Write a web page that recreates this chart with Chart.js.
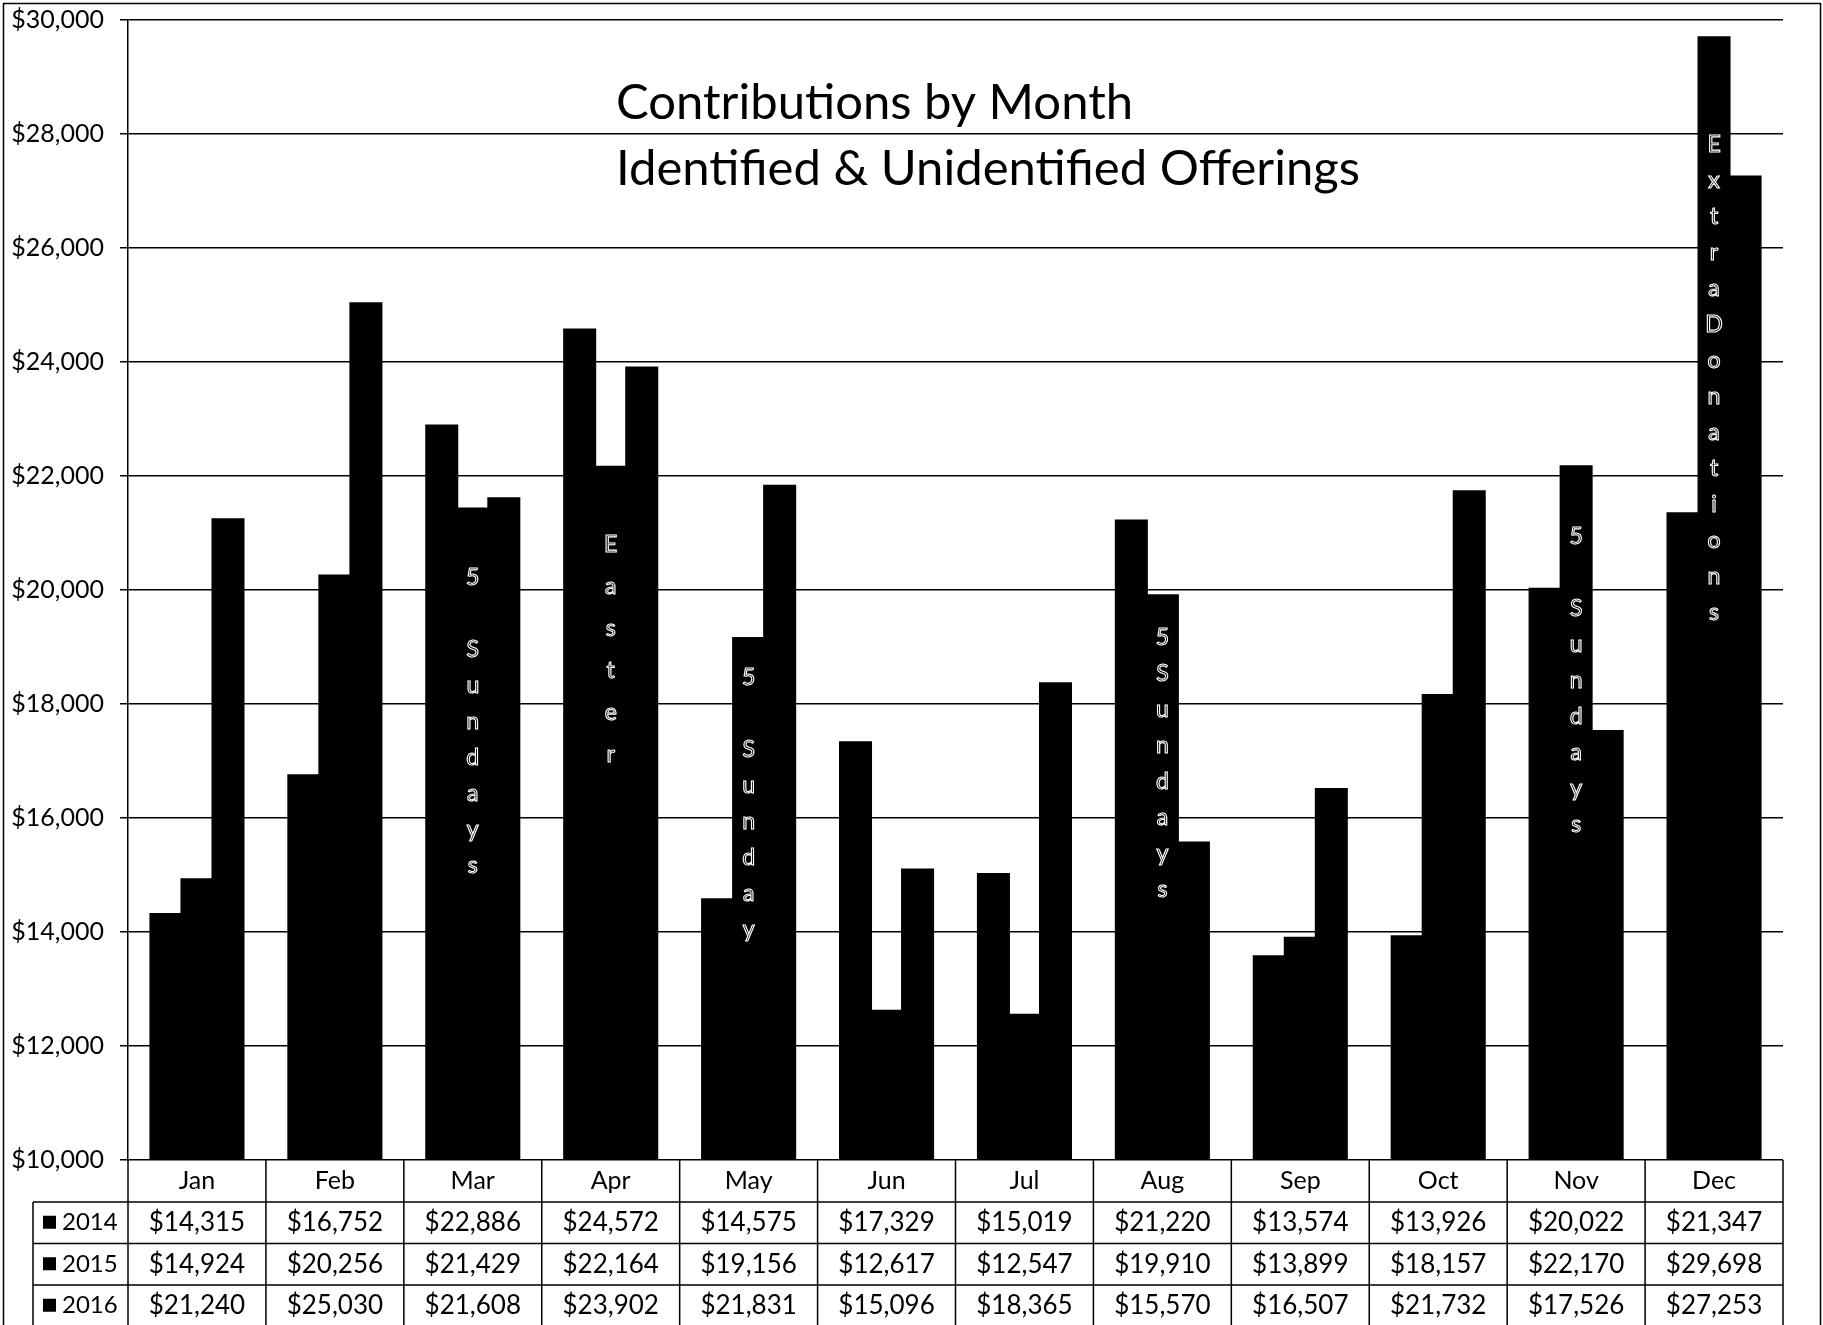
<!DOCTYPE html>
<html>
<head>
<meta charset="utf-8">
<script src="https://cdn.jsdelivr.net/npm/chart.js@4"></script>
<style>
  body { margin: 0; background: #fff; }
  canvas { display: block; }
</style>
</head>
<body>
<canvas id="myChart" width="1823" height="1325"></canvas>
<script>
// chart values
const months = ["Jan", "Feb", "Mar", "Apr", "May", "Jun", "Jul", "Aug", "Sep", "Oct", "Nov", "Dec"];
const seriesNames = ["2014", "2015", "2016"];
const values2014 = [14315, 16752, 22886, 24572, 14575, 17329, 15019, 21220, 13574, 13926, 20022, 21347];
const values2015 = [14924, 20256, 21429, 22164, 19156, 12617, 12547, 19910, 13899, 18157, 22170, 29698];
const values2016 = [21240, 25030, 21608, 23902, 21831, 15096, 18365, 15570, 16507, 21732, 17526, 27253];
const yMin = 10000;
const yMax = 30000;
const yStep = 2000;
const titleLines = ["Contributions by Month", "Identified & Unidentified Offerings"];

// notes written down the 2015 bar of a month ("from" is where the first letter sits, in $)
const notes = [
	{ month: "Mar", text: "5 Sundays", from: 20210, gap: 36 },
	{ month: "Apr", text: "Easter", from: 20790, gap: 42 },
	{ month: "May", text: "5 Sunday", from: 18456, gap: 36 },
	{ month: "Aug", text: "5Sundays", from: 19158, gap: 36 },
	{ month: "Nov", text: "5 Sundays", from: 20930, gap: 36 },
	{ month: "Dec", text: "ExtraDonations", from: 27807, gap: 36 },
];

const FONT = "Lato, 'Open Sans', sans-serif";
const allSeries = [values2014, values2015, values2016];

const money = (v) => "$" + v.toLocaleString("en-US");

// title, frame, notes and the data table under the plot
const extras = {
	id: "extras",
	afterDatasetsDraw(chart) {
		const ctx = chart.ctx;
		const meta = chart.getDatasetMeta(1);
		const y = chart.scales.y;

		// vertical notes inside the bars
		ctx.save();
		ctx.font = "23px " + FONT;
		ctx.textAlign = "center";
		ctx.textBaseline = "middle";
		ctx.strokeStyle = "#fff";
		ctx.lineWidth = 1.1;
		notes.forEach((n) => {
			const bar = meta.data[months.indexOf(n.month)];
			const start = y.getPixelForValue(n.from);
			[...n.text].forEach((ch, i) => {
				if (ch !== " ") ctx.strokeText(ch, bar.x, start + i * n.gap);
			});
		});
		ctx.restore();
	},
	afterDraw(chart) {
		const ctx = chart.ctx;
		const area = chart.chartArea;
		const W = chart.width;
		const H = chart.height;

		ctx.save();
		// title
		ctx.fillStyle = "#000";
		ctx.font = "49px " + FONT;
		ctx.textAlign = "left";
		ctx.textBaseline = "middle";
		ctx.fillText(titleLines[0], 616, 103);
		ctx.fillText(titleLines[1], 616, 169);

		// outer frame
		ctx.strokeStyle = "#000";
		ctx.lineWidth = 1.5;
		ctx.strokeRect(3.5, 3.5, W - 6, H + 10);

		// data table
		const colW = (area.right - area.left) / months.length;
		const headTop = area.bottom;
		const rowH = 41.5;
		const firstRow = headTop + 42;
		const legendLeft = 33;
		ctx.lineWidth = 1.5;
		ctx.beginPath();
		for (let i = 0; i <= months.length; i++) {
			const x = area.left + i * colW;
			ctx.moveTo(x, headTop);
			ctx.lineTo(x, H);
		}
		ctx.moveTo(legendLeft, firstRow);
		ctx.lineTo(legendLeft, H);
		for (let r = 0; r < seriesNames.length; r++) {
			const yy = firstRow + r * rowH;
			ctx.moveTo(legendLeft, yy);
			ctx.lineTo(area.right, yy);
		}
		ctx.stroke();

		ctx.textAlign = "center";
		months.forEach((m, i) => {
			const cx = area.left + (i + 0.5) * colW;
			ctx.font = "25px " + FONT;
			ctx.fillText(m, cx, headTop + 21);
			ctx.font = "26px " + FONT;
			allSeries.forEach((vals, r) => {
				ctx.fillText(money(vals[i]), cx, firstRow + r * rowH + rowH / 2);
			});
		});
		ctx.textAlign = "left";
		ctx.font = "24px " + FONT;
		seriesNames.forEach((s, r) => {
			const cy = firstRow + r * rowH + rowH / 2;
			ctx.fillRect(43, cy - 7, 13, 13);
			ctx.fillText(s, 62, cy);
		});
		ctx.restore();
	},
};

new Chart(document.getElementById("myChart"), {
	type: "bar",
	data: {
		labels: months,
		datasets: seriesNames.map((name, i) => ({
			label: name,
			data: allSeries[i],
			backgroundColor: "#000",
			borderWidth: 0,
			inflateAmount: 1,
			categoryPercentage: 0.675,
			barPercentage: 1.0,
		})),
	},
	options: {
		responsive: false,
		animation: false,
		layout: { padding: { left: 0, top: 20, right: 40, bottom: 165 } },
		plugins: {
			legend: { display: false },
			title: { display: false },
			tooltip: { enabled: false },
		},
		scales: {
			x: { display: false },
			y: {
				min: yMin,
				max: yMax,
				afterFit: (scale) => {
					scale.width = 128;
					scale.paddingTop = 0;
					scale.paddingBottom = 0;
				},
				ticks: {
					stepSize: yStep,
					color: "#000",
					padding: 16,
					font: { family: FONT, size: 25 },
					callback: (v) => money(v),
				},
				grid: { color: "#000", lineWidth: 1.5, tickLength: 8, tickColor: "#000" },
				border: { display: true, color: "#000", width: 1.5 },
			},
		},
	},
	plugins: [extras],
});
</script>
</body>
</html>
